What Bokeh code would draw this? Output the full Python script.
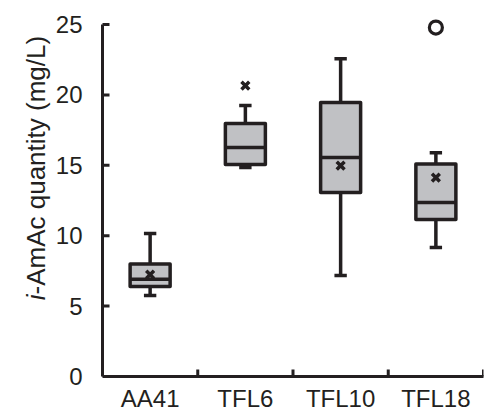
import math
from bokeh.plotting import figure
from bokeh.layouts import row
from bokeh.models import Range1d, FixedTicker, Label, ColumnDataSource
from bokeh.embed import file_html
from bokeh.resources import INLINE

# ---- data ----
categories = ["AA41", "TFL6", "TFL10", "TFL18"]
whisker_low = [5.75, 14.84, 7.17, 9.16]
q1 = [6.40, 15.06, 13.07, 11.15]
median = [6.90, 16.26, 15.55, 12.36]
q3 = [8.00, 17.97, 19.46, 15.10]
whisker_high = [10.16, 19.25, 22.58, 15.90]
mean = [7.24, 20.67, 14.98, 14.13]
outlier_cat = ["TFL18"]
outlier_val = [24.79]
y_ticks = [0, 5, 10, 15, 20, 25]
y_title_italic = "i"
y_title_rest = "-AmAc quantity (mg/L)"

DARK = "#231f20"
FILL = "#c0c1c4"
FONT = "Liberation Sans"
FS = "24px"
TITLE_W = 52

xs = list(range(len(categories)))
pos = {c: i for i, c in enumerate(categories)}
x_bounds = [x - 0.5 for x in xs] + [xs[-1] + 0.5]
box_w = 0.42
cap_w = 0.13

src = ColumnDataSource(dict(
    x=xs, lo=whisker_low, q1=q1, med=median, q3=q3, hi=whisker_high, mean=mean,
    xl=[x - box_w / 2 for x in xs], xr=[x + box_w / 2 for x in xs],
    cl=[x - cap_w / 2 for x in xs], cr=[x + cap_w / 2 for x in xs],
))

p = figure(width=484 - TITLE_W, height=419, output_backend="svg", toolbar_location=None,
           x_range=Range1d(x_bounds[0], x_bounds[-1]), y_range=Range1d(0, 26),
           min_border_left=100 - TITLE_W, min_border_right=1, min_border_top=10,
           min_border_bottom=43)
p.outline_line_color = None
p.xgrid.visible = False
p.ygrid.visible = False
p.background_fill_color = "white"

# inward tick marks (half of each dash is clipped by the frame edge)
p.scatter(x=x_bounds, y=[0] * len(x_bounds), marker="dash", angle=math.pi / 2, size=14,
          line_color=DARK, line_width=3)
p.scatter(x=[x_bounds[0]] * len(y_ticks), y=y_ticks, marker="dash", size=14,
          line_color=DARK, line_width=3)

# whiskers
p.segment(x0="x", y0="q3", x1="x", y1="hi", source=src, line_color=DARK, line_width=3.5)
p.segment(x0="x", y0="lo", x1="x", y1="q1", source=src, line_color=DARK, line_width=3.5)
p.segment(x0="cl", y0="hi", x1="cr", y1="hi", source=src, line_color=DARK, line_width=3.5)
p.segment(x0="cl", y0="lo", x1="cr", y1="lo", source=src, line_color=DARK, line_width=3.5)
# boxes
p.vbar(x="x", width=box_w, bottom="q1", top="q3", source=src, fill_color=FILL,
       line_color=DARK, line_width=3.5, line_join="round")
# median
p.segment(x0="xl", y0="med", x1="xr", y1="med", source=src, line_color=DARK, line_width=3.5)
# mean
p.scatter(x="x", y="mean", source=src, marker="x", size=11, line_color=DARK, line_width=3.5)
# outliers
p.scatter(x=[pos[c] for c in outlier_cat], y=outlier_val, marker="circle", size=13,
          fill_color="white", line_color=DARK, line_width=3.2)

# axes (tick marks drawn above; axis ticks set to zero length)
for ax in (p.xaxis[0], p.yaxis[0]):
    ax.axis_line_color = DARK
    ax.axis_line_width = 3
    ax.major_tick_line_color = None
    ax.minor_tick_line_color = None
    ax.major_tick_in = 0
    ax.major_tick_out = 0
    ax.minor_tick_in = 0
    ax.minor_tick_out = 0
    ax.major_label_text_font = FONT
    ax.major_label_text_font_size = FS
    ax.major_label_text_color = DARK

ya = p.yaxis[0]
ya.bounds = (0, 25)
ya.ticker = FixedTicker(ticks=y_ticks)
ya.major_label_standoff = 20

xa = p.xaxis[0]
xa.ticker = FixedTicker(ticks=xs)
xa.major_label_overrides = {i: c for i, c in enumerate(categories)}
xa.major_label_standoff = 8

# title panel on the left
t = figure(width=TITLE_W, height=419, output_backend="svg", toolbar_location=None,
           x_axis_type=None, y_axis_type=None, x_range=Range1d(0, 1), y_range=Range1d(0, 1),
           min_border=0)
t.outline_line_color = None
t.xgrid.visible = False
t.ygrid.visible = False
t_x, t_y = 35, 82
t.add_layout(Label(x=t_x, y=t_y, x_units="screen", y_units="screen", text=y_title_italic,
                   angle=math.pi / 2, text_font=FONT, text_font_style="italic",
                   text_font_size="26px", text_color=DARK,
                   text_align="right", text_baseline="middle"))
t.add_layout(Label(x=t_x, y=t_y, x_units="screen", y_units="screen", text=y_title_rest,
                   angle=math.pi / 2, text_font=FONT, text_font_size="26px",
                   text_color=DARK, text_align="left", text_baseline="middle"))

layout = row(t, p, spacing=0)
open("out.html", "w").write(file_html(layout, INLINE))
